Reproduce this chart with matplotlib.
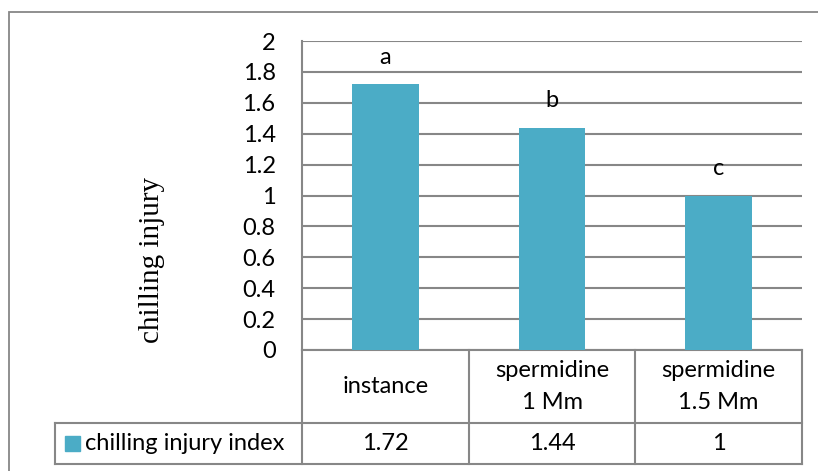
import matplotlib.pyplot as plt
from matplotlib.patches import Rectangle
import matplotlib.transforms as mtransforms

# data
categories = ["instance", "spermidine\n1 Mm", "spermidine\n1.5 Mm"]
values = [1.72, 1.44, 1]
value_labels = ["1.72", "1.44", "1"]
letters = ["a", "b", "c"]
series_name = "chilling injury index"
yticks = [0, 0.2, 0.4, 0.6, 0.8, 1, 1.2, 1.4, 1.6, 1.8, 2]

bar_color = "#4BACC6"
line_color = "#878787"
W, H = 818, 471
fs = 17

plt.rcParams["font.family"] = ["Lato", "DejaVu Sans"]

fig = plt.figure(figsize=(W / 100, H / 100), dpi=100)

# outer chart border
fig.patches.append(Rectangle((9 / W, -0.1), 1.2, (H - 12) / H + 0.1, transform=fig.transFigure,
                             fill=False, edgecolor=line_color, linewidth=1.3))

ax = fig.add_axes([302 / W, (H - 350) / H, 500 / W, 309 / H])
x = list(range(len(categories)))
ax.bar(x, values, width=0.40, color=bar_color, zorder=3)

ax.set_xlim(-0.5, len(categories) - 0.5)
ax.set_ylim(0, 2)
ax.set_yticks(yticks)
ax.set_yticklabels([f"{t:g}" for t in yticks], fontsize=fs)
ax.tick_params(axis="y", length=0, pad=19)
ax.tick_params(axis="x", length=0, labelbottom=False)
ax.yaxis.grid(True, color=line_color, linewidth=1.5, zorder=0)
ax.set_axisbelow(True)
for side in ["top", "right", "bottom"]:
    ax.spines[side].set_visible(False)
ax.spines["left"].set_color(line_color)
ax.spines["left"].set_linewidth(1.5)

# significance letters
for xi, v, letter in zip(x, values, letters):
    ax.annotate(letter, (xi, v), xytext=(0, 12), textcoords="offset points",
                ha="center", va="bottom", fontsize=fs)

fig.text(152 / W, 1 - 260 / H, "chilling injury", family="Liberation Serif", fontsize=21,
         rotation=90, ha="center", va="center")

# data table below the axes
tr = mtransforms.blended_transform_factory(ax.transData, ax.transAxes)
row1 = -73 / 309
row2 = -114 / 309
col_px = 500 / 3
left_edge = -0.5 - (302 - 55) / col_px
right_edge = len(categories) - 0.5
lk = dict(color=line_color, linewidth=1.5, transform=tr, clip_on=False)

ax.plot([-0.5, right_edge], [0, 0], **lk)
ax.plot([left_edge, right_edge], [row1, row1], **lk)
ax.plot([left_edge, right_edge], [row2, row2], **lk)
ax.plot([left_edge, left_edge], [row1, row2], **lk)
for b in [i - 0.5 for i in range(len(categories) + 1)]:
    ax.plot([b, b], [0, row2], **lk)

for xi, cat, vl in zip(x, categories, value_labels):
    ax.text(xi, row1 / 2, cat, transform=tr, ha="center", va="center",
            fontsize=fs, linespacing=1.6)
    ax.text(xi, (row1 + row2) / 2, vl, transform=tr, ha="center", va="center", fontsize=fs)

ax.add_patch(Rectangle((left_edge + 10 / col_px, (row1 + row2) / 2 - 7.5 / 309), 15 / col_px, 15 / 309,
                       transform=tr, color=bar_color, clip_on=False))
ax.text(left_edge + 30 / col_px, (row1 + row2) / 2, series_name, transform=tr,
        ha="left", va="center", fontsize=fs)

fig.savefig("out.png", dpi=100)
